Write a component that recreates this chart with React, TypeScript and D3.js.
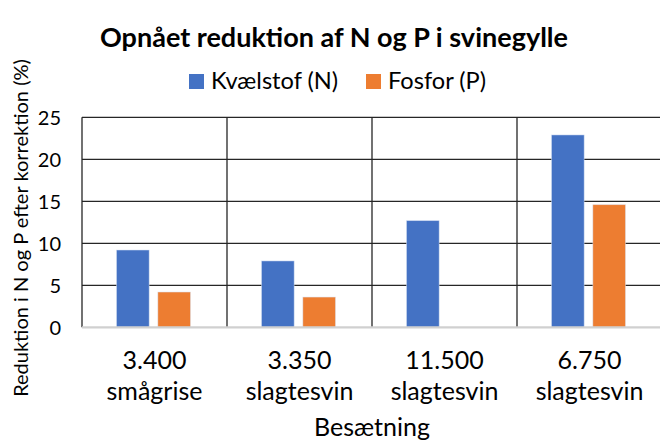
import * as d3 from "d3";
import React from "react";

const counts = ["3.400", "3.350", "11.500", "6.750"];
const herdTypes = ["smågrise", "slagtesvin", "slagtesvin", "slagtesvin"];
const seriesNames = ["Kvælstof (N)", "Fosfor (P)"];
const nValues = [9.2, 7.9, 12.7, 22.9];
const pValues: (number | null)[] = [4.2, 3.6, null, 14.6];
const yTicks = [0, 5, 10, 15, 20, 25];
const colors = ["#4472C4", "#ED7D31"];

const font = "Lato, 'Open Sans', sans-serif";

const App = () => {
  const width = 660;
  const height = 445;
  const marginLeft = 82;
  const plotRight = 662;
  const plotTop = 117.3;
  const plotBottom = 327.3;

  const x = d3.scaleBand<number>().domain(d3.range(counts.length)).range([marginLeft, plotRight]);
  const x1 = d3
    .scaleBand<number>()
    .domain([0, 1])
    .range([34.5, 108.5])
    .paddingInner(0.21);
  const y = d3.scaleLinear([0, 25], [plotBottom, plotTop]);

  const series = [nValues, pValues];

  return (
    <svg
      width={width}
      height={height}
      style={{ position: "absolute", left: 0, top: 0, background: "#fff" }}
      fontFamily={font}
    >
      <text x={334} y={47} textAnchor="middle" fontSize={27} fontWeight="bold" fill="#000">
        Opnået reduktion af N og P i svinegylle
      </text>

      {/* legend */}
      <g fontSize={23.6} fill="#000">
        <rect x={189} y={74} width={15} height={15} fill={colors[0]} />
        <text x={211} y={89}>{seriesNames[0]}</text>
        <rect x={366} y={74} width={15} height={15} fill={colors[1]} />
        <text x={388} y={89}>{seriesNames[1]}</text>
      </g>

      {/* gridlines */}
      <g stroke="#262626" strokeWidth={1.3}>
        {yTicks.filter((t) => t > 0).map((t) => (
          <line key={t} x1={marginLeft} x2={plotRight} y1={y(t)} y2={y(t)} />
        ))}
        {d3.range(counts.length + 1).map((i) => {
          const xx = i < counts.length ? x(i)! : plotRight;
          return <line key={i} x1={xx} x2={xx} y1={plotTop} y2={plotBottom} />;
        })}
      </g>

      {/* bars */}
      {series.map((vals, s) => (
        <g key={s} fill={colors[s]} stroke="#dbe4f5" strokeWidth={0.8} strokeOpacity={0.6}>
          {vals.map((v, i) =>
            v == null ? null : (
              <rect
                key={i}
                x={x(i)! + x1(s)!}
                y={y(v)}
                width={x1.bandwidth()}
                height={y(0) - y(v)}
              />
            ),
          )}
        </g>
      ))}

      {/* baseline */}
      <line x1={marginLeft} x2={plotRight} y1={y(0)} y2={y(0)} stroke="#d0d0d0" strokeWidth={2.2} />

      {/* y ticks */}
      <g fontSize={20} fill="#000" textAnchor="end">
        {yTicks.map((t) => (
          <text key={t} x={61} y={y(t)} dy="0.36em">
            {t}
          </text>
        ))}
      </g>

      {/* x labels */}
      <g fontSize={25} fill="#000" textAnchor="middle">
        {counts.map((c, i) => (
          <g key={i}>
            <text x={x(i)! + x.bandwidth() / 2} y={369}>{c}</text>
            <text x={x(i)! + x.bandwidth() / 2} y={400}>{herdTypes[i]}</text>
          </g>
        ))}
      </g>

      <text x={372} y={436} textAnchor="middle" fontSize={25} fill="#000">
        Besætning
      </text>

      <text
        transform={`translate(28,${228}) rotate(-90)`}
        textAnchor="middle"
        fontSize={20}
        fill="#000"
      >
        Reduktion i N og P efter korrektion (%)
      </text>
    </svg>
  );
};

export default App;
